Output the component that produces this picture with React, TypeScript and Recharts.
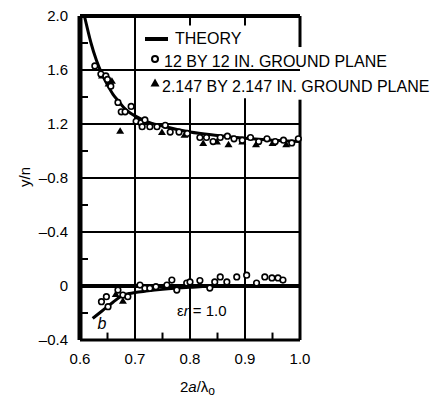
import React from 'react';
import {
  ComposedChart, Line, Scatter, XAxis, YAxis, CartesianGrid, ReferenceLine, Legend, Customized,
} from 'recharts';

// axis ticks (the printed scale repeats the minus sign on 0.4 and 0.8)
const xTicks = [0.6, 0.7, 0.8, 0.9, 1.0];
const yTicks = [-0.4, 0, 0.4, 0.8, 1.2, 1.6, 2.0];
const yTickLabels = ['–0.4', '0', '–0.4', '–0.8', '1.2', '1.6', '2.0'];

// theory curves, [2a/λo, y/n]
const theoryUpper: [number, number][] = [
  [0.608, 2.0], [0.615, 1.88], [0.62, 1.8], [0.63, 1.67], [0.64, 1.57], [0.65, 1.49],
  [0.66, 1.42], [0.67, 1.37], [0.68, 1.32], [0.69, 1.285], [0.7, 1.26], [0.72, 1.22],
  [0.75, 1.185], [0.8, 1.14], [0.85, 1.115], [0.9, 1.095], [0.95, 1.08], [1.0, 1.07],
];
const theoryLower: [number, number][] = [
  [0.623, -0.24], [0.64, -0.185], [0.66, -0.12], [0.675, -0.075], [0.69, -0.055],
  [0.7, -0.048], [0.72, -0.038], [0.75, -0.025], [0.8, -0.01], [0.85, 0], [1.0, 0],
];

// 12 by 12 in. ground plane
const plane12Upper: [number, number][] = [
  [0.627, 1.63], [0.638, 1.57], [0.647, 1.556], [0.65, 1.53], [0.656, 1.48], [0.669, 1.36],
  [0.675, 1.29], [0.682, 1.29], [0.693, 1.33], [0.702, 1.22], [0.711, 1.21], [0.718, 1.23],
  [0.713, 1.18], [0.727, 1.18], [0.74, 1.18], [0.755, 1.19], [0.764, 1.14], [0.78, 1.14],
  [0.795, 1.13], [0.818, 1.1], [0.83, 1.1], [0.842, 1.07], [0.855, 1.1], [0.868, 1.11],
  [0.88, 1.09], [0.895, 1.08], [0.91, 1.1], [0.925, 1.07], [0.94, 1.09], [0.955, 1.07],
  [0.97, 1.08], [0.985, 1.06], [0.997, 1.09],
];
const plane12Lower: [number, number][] = [
  [0.639, -0.116], [0.648, -0.079], [0.651, -0.153], [0.669, -0.03], [0.678, -0.067],
  [0.687, -0.079], [0.709, 0.007], [0.718, -0.017], [0.727, -0.017], [0.738, -0.005],
  [0.758, 0.007], [0.767, 0.044], [0.776, -0.03], [0.794, 0.022], [0.8, 0.03], [0.818, 0.04],
  [0.836, -0.015], [0.845, 0.03], [0.855, 0.067], [0.867, 0.03], [0.885, 0.067], [0.903, 0.08],
  [0.921, 0.022], [0.936, 0.067], [0.949, 0.06], [0.96, 0.06], [0.969, 0.044],
];

// 2.147 by 2.147 in. ground plane
const plane2Upper: [number, number][] = [
  [0.64, 1.56], [0.652, 1.5], [0.658, 1.52], [0.673, 1.15], [0.749, 1.14], [0.79, 1.12],
  [0.824, 1.06], [0.849, 1.07], [0.87, 1.05], [0.895, 1.07], [0.92, 1.05], [0.95, 1.06],
  [0.975, 1.05],
];
const plane2Lower: [number, number][] = [[0.665, -0.06], [0.678, -0.11]];

const legendLabels = ['THEORY', '12 BY 12 IN. GROUND PLANE', '2.147 BY 2.147 IN. GROUND PLANE'];

const toPoints = (pairs: [number, number][]) => pairs.map(([x, y]) => ({ x, y }));

const FONT = '"Liberation Sans", Arial, sans-serif';

const OpenCircle = (props: any) => (
  <circle cx={props.cx} cy={props.cy} r={2.8} fill="#fff" stroke="#000" strokeWidth={1.6} />
);

const FilledTriangle = (props: any) => {
  const { cx, cy } = props;
  return <path d={`M${cx},${cy - 3.5}L${cx + 4},${cy + 3}L${cx - 4},${cy + 3}Z`} fill="#000" />;
};

const formatY = (v: number) => {
  const i = yTicks.findIndex((t) => Math.abs(t - v) < 1e-6);
  return i >= 0 ? yTickLabels[i] : String(v);
};

const LegendBox = () => (
  <div style={{ position: 'relative', fontFamily: FONT, fontSize: 16, color: '#000', width: 290, height: 80, whiteSpace: 'nowrap' }}>
    <svg width={26} height={8} style={{ position: 'absolute', left: 0, top: 7 }}>
      <line x1={0} y1={4} x2={23} y2={4} stroke="#000" strokeWidth={4} />
    </svg>
    <span style={{ position: 'absolute', left: 30, top: 2, lineHeight: '18px' }}>{legendLabels[0]}</span>
    <svg width={12} height={12} style={{ position: 'absolute', left: 4, top: 25 }}>
      <circle cx={6} cy={6} r={3} fill="#fff" stroke="#000" strokeWidth={2} />
    </svg>
    <span style={{ position: 'absolute', left: 19, top: 25, lineHeight: '18px' }}>{legendLabels[1]}</span>
    <svg width={12} height={12} style={{ position: 'absolute', left: 4, top: 49 }}>
      <path d="M6,1.5L10.5,9.5L1.5,9.5Z" fill="#000" />
    </svg>
    <span style={{ position: 'absolute', left: 17, top: 50, lineHeight: '18px' }}>{legendLabels[2]}</span>
  </div>
);

// free text: axis titles and in-plot notes
const Annotations = () => (
  <g fontFamily={FONT} fill="#000">
    <text x={24} y={177} fontSize={15} textAnchor="middle" dominantBaseline="central" transform="rotate(-90 24 177)">
      y/n
    </text>
    <text x={180} y={392} fontSize={15}>
      2<tspan fontStyle="italic">a</tspan>/λ<tspan dy={3} fontSize={12}>o</tspan>
    </text>
    <text x={177} y={316} fontSize={15}>
      ε<tspan fontStyle="italic">r</tspan> = 1.0
    </text>
    <text x={102} y={329} fontSize={16} fontStyle="italic" textAnchor="middle">b</text>
  </g>
);

const minorY = [-0.2, 0.2, 0.6, 1.0, 1.4, 1.8];
const minorX = [0.65, 0.75, 0.85, 0.95];

export default function App() {
  return (
    <div style={{ position: 'absolute', left: 0, top: 0, width: 435, height: 399, background: '#fff' }}>
      <ComposedChart width={435} height={399} margin={{ top: 16, right: 135, bottom: 29, left: 0 }}>
        <CartesianGrid vertical={false} stroke="#000" strokeWidth={2} />
        <XAxis
          dataKey="x"
          type="number"
          domain={[0.6, 1.0]}
          ticks={xTicks}
          tickFormatter={(v: number) => v.toFixed(1)}
          height={30}
          axisLine={{ stroke: '#000', strokeWidth: 3 }}
          tickLine={false}
          tickSize={6}
          tickMargin={7}
          tick={{ fill: '#000', fontSize: 15, fontFamily: FONT }}
        />
        <YAxis
          type="number"
          domain={[-0.4, 2.0]}
          ticks={yTicks}
          tickFormatter={formatY}
          width={80}
          axisLine={{ stroke: '#000', strokeWidth: 5 }}
          tickLine={false}
          tickSize={6}
          tickMargin={6}
          tick={{ fill: '#000', fontSize: 15, fontFamily: FONT }}
        />

        {/* frame and gridlines, broken where the legend sits */}
        <ReferenceLine y={2.0} stroke="#000" strokeWidth={4} />
        <ReferenceLine y={0} stroke="#000" strokeWidth={4} />
        <ReferenceLine x={0.7} stroke="#000" strokeWidth={2} />
        <ReferenceLine segment={[{ x: 0.8, y: -0.4 }, { x: 0.8, y: 1.39 }]} stroke="#000" strokeWidth={2} />
        <ReferenceLine segment={[{ x: 0.8, y: 1.93 }, { x: 0.8, y: 2.0 }]} stroke="#000" strokeWidth={2} />
        <ReferenceLine segment={[{ x: 0.9, y: -0.4 }, { x: 0.9, y: 1.39 }]} stroke="#000" strokeWidth={2} />
        <ReferenceLine segment={[{ x: 0.9, y: 1.93 }, { x: 0.9, y: 2.0 }]} stroke="#000" strokeWidth={2} />
        <ReferenceLine segment={[{ x: 1.0, y: -0.4 }, { x: 1.0, y: 1.38 }]} stroke="#000" strokeWidth={3} />
        <ReferenceLine segment={[{ x: 1.0, y: 1.77 }, { x: 1.0, y: 2.0 }]} stroke="#000" strokeWidth={3} />
        {minorY.map((v) => (
          <ReferenceLine key={`my${v}`} segment={[{ x: 0.6, y: v }, { x: 0.6145, y: v }]} stroke="#000" strokeWidth={2} />
        ))}
        {minorX.map((v) => (
          <ReferenceLine key={`mx${v}`} segment={[{ x: v, y: -0.4 }, { x: v, y: -0.345 }]} stroke="#000" strokeWidth={2} />
        ))}

        <Line data={toPoints(theoryUpper)} dataKey="y" type="monotone" stroke="#000" strokeWidth={3} dot={false} isAnimationActive={false} />
        <Line data={toPoints(theoryLower)} dataKey="y" type="monotone" stroke="#000" strokeWidth={3} dot={false} isAnimationActive={false} />
        <Scatter data={toPoints(plane2Upper)} dataKey="y" shape={FilledTriangle} isAnimationActive={false} />
        <Scatter data={toPoints(plane2Lower)} dataKey="y" shape={FilledTriangle} isAnimationActive={false} />
        <Scatter data={toPoints(plane12Upper)} dataKey="y" shape={OpenCircle} isAnimationActive={false} />
        <Scatter data={toPoints(plane12Lower)} dataKey="y" shape={OpenCircle} isAnimationActive={false} />

        <Legend
          layout="horizontal"
          verticalAlign="middle"
          align="center"
          content={<LegendBox />}
          wrapperStyle={{ top: 28, left: 145, width: 290, height: 80 }}
        />
        <Customized component={Annotations} />
      </ComposedChart>
    </div>
  );
}
